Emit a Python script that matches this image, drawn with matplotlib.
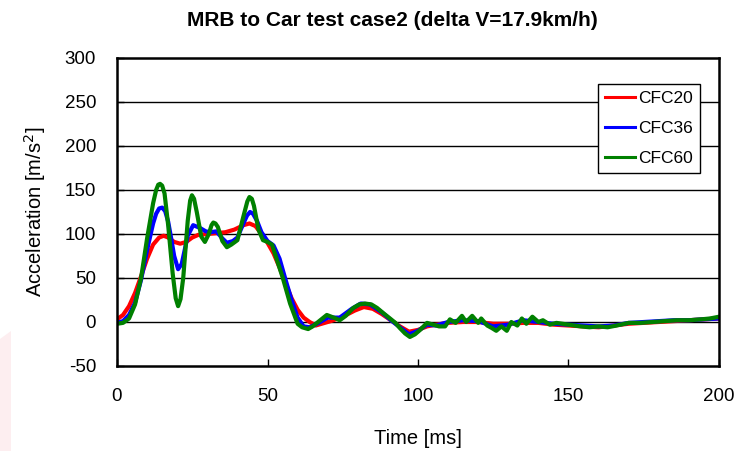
import matplotlib
matplotlib.use("Agg")
import matplotlib.pyplot as plt
from matplotlib.patches import Polygon

plt.rcParams['font.family'] = ['Liberation Sans', 'DejaVu Sans']
plt.rcParams['axes.unicode_minus'] = False

# time [ms] / acceleration [m/s^2]
t_cfc20 = [0, 2, 4, 6, 8, 10, 12, 14, 15.5, 17, 19, 21, 23, 25, 27, 30, 33, 36, 39, 42, 44,
           46, 48, 50, 52, 54, 56, 58, 60, 62, 64, 66, 68, 71, 75, 79, 82, 85, 88, 91, 94,
           97, 100, 103, 106, 110, 115, 120, 125, 130, 135, 140, 145, 150, 155, 160, 165,
           170, 175, 180, 185, 190, 195, 200]
a_cfc20 = [3, 8, 18, 33, 52, 72, 88, 96, 98, 96, 91, 89, 91, 96, 99, 100, 101, 102, 105, 110, 112,
           109, 100, 90, 78, 62, 44, 27, 14, 5, 0, -4, -2, 1, 6, 13, 17, 15, 9, 2, -5,
           -11, -9, -5, -3, -1, 0, 0, -2, -2, -1, -1, -3, -4, -5, -6, -4,
           -2, -1, 0, 1, 2, 3, 4]

t_cfc36 = [0, 2, 4, 6, 8, 10, 12, 13, 14, 15, 16, 17, 18, 19, 20.3, 21.5, 22.5, 23.5, 25.3, 27.5,
           29.5, 31, 33, 35, 36.5, 38.5, 40, 42, 43.2, 44.2, 45.2, 46.5, 48, 50, 52, 54, 56,
           58, 60, 62, 64, 67, 70, 74, 78, 81, 84, 88, 91, 94, 97, 100, 103, 106, 110, 115,
           120, 125, 130, 135, 140, 145, 150, 155, 160, 165, 170, 175, 180, 185, 190, 195, 200]
a_cfc36 = [-1, 1, 8, 22, 48, 82, 112, 123, 129, 130, 126, 114, 95, 75, 60, 66, 82, 98, 110, 107,
           103, 102, 103, 95, 90, 92, 96, 112, 121, 125, 123, 115, 102, 92, 87, 72, 48,
           25, 5, -5, -6, -1, 5, 5, 15, 21, 20, 11, 2, -6, -14, -10, -3, -4, 0, 2,
           1, -5, -3, 2, 0, -2, -3, -4, -5, -4, -1, 0, 1, 2, 2, 3, 4]

t_cfc60 = [0, 2, 4, 6, 8, 10, 12, 13, 13.7, 14.3, 15, 15.8, 17, 18.5, 19.5, 20.3, 21.1, 22, 23.5,
           24.3, 24.9, 25.6, 26.5, 28, 29.2, 30.5, 31.4, 32, 32.7, 33.5, 35, 36.5, 38, 40, 42,
           43.3, 44, 44.8, 45.5, 47, 48.5, 50, 51.5, 53, 55, 57.5, 60, 61.5, 63.5, 65, 66.8,
           69.7, 72, 74, 76, 78.5, 80.5, 82.4, 84.5, 86.4, 88.5, 90.7, 92.5, 94, 95.7, 97.3,
           99, 100.7, 103, 105, 107, 109, 110.6, 112.5, 114.6, 116, 118, 120, 121, 123,
           124.6, 126, 127.7, 129.5, 131, 133, 134.5, 136, 138, 140, 141.5, 143.8, 146, 150,
           154, 157, 160, 163, 166, 170, 174, 178, 182, 186, 190, 194, 197, 200]
a_cfc60 = [-2, -1, 4, 20, 50, 95, 135, 150, 156, 157, 155, 146, 110, 55, 27, 18, 26, 50, 115,
           138, 144, 140, 125, 97, 91, 100, 110, 113, 112, 108, 92, 85, 88, 93, 120,
           137, 142, 140, 132, 105, 93, 91, 88, 72, 51, 21, -2, -6, -8, -5, 0,
           8, 5, 2, 7, 16, 20, 21, 20, 16, 10, 4, -1, -7, -13, -17,
           -14, -9, -1, -3, -5, -5, 3, -1, 7, 0, 7, -1, 4, -4,
           -7, -10, -5, -10, 0, -4, 4, -2, 6, 0, 2, -3, -1, -3,
           -5, -6, -5, -6, -4, -1, -1, 0, 1, 2, 2, 3, 4, 6]

series = [("CFC20", t_cfc20, a_cfc20, "#ff0000"),
          ("CFC36", t_cfc36, a_cfc36, "#0000ff"),
          ("CFC60", t_cfc60, a_cfc60, "#008000")]

fig = plt.figure(figsize=(7.37, 4.51), dpi=100)
ax = fig.add_axes([117/737, 1 - 366/451, 602/737, 308/451])

# faint pink watermark at the lower left corner
fig.patches.append(Polygon([[0, 0], [11/737, 0], [11/737, 120/451], [0, 112/451]],
                           closed=True, transform=fig.transFigure,
                           facecolor="#fdeef0", edgecolor="none", zorder=0))

for name, t, a, c in series:
    ax.plot(t, a, color=c, lw=3.0, label=name, solid_joinstyle="round")

ax.set_xlim(0, 200)
ax.set_ylim(-50, 300)
ax.set_xticks([0, 50, 100, 150, 200])
ax.set_yticks([-50, 0, 50, 100, 150, 200, 250, 300])
for yv in [0, 50, 100, 150, 200, 250]:
    ax.axhline(yv, color="black", lw=1.0, zorder=0)

for s in ax.spines.values():
    s.set_linewidth(1.8)
ax.tick_params(direction="in", length=5, width=1, labelsize=13.5)
ax.tick_params(axis="x", pad=16)
ax.tick_params(axis="y", pad=15)
ax.tick_params(top=False, right=False)

ax.set_xlabel("Time [ms]", fontsize=14.5, labelpad=17)
ax.set_ylabel("Acceleration [m/s$^2$]", fontsize=14.5, labelpad=12)
fig.text(392/737, 1 - 20/451, "MRB to Car test case2 (delta V=17.9km/h)",
         ha="center", va="center", fontsize=15, fontweight="bold")

leg = ax.legend(loc="upper right", bbox_to_anchor=(0.968, 0.916), fontsize=12.5,
                frameon=True, fancybox=False, framealpha=1, edgecolor="black",
                handlelength=1.7, labelspacing=0.85, borderpad=0.4, handletextpad=0.2,
                borderaxespad=0)
leg.get_frame().set_linewidth(1.0)
for line in leg.get_lines():
    line.set_linewidth(2.2)

fig.savefig("out.png", dpi=100)
